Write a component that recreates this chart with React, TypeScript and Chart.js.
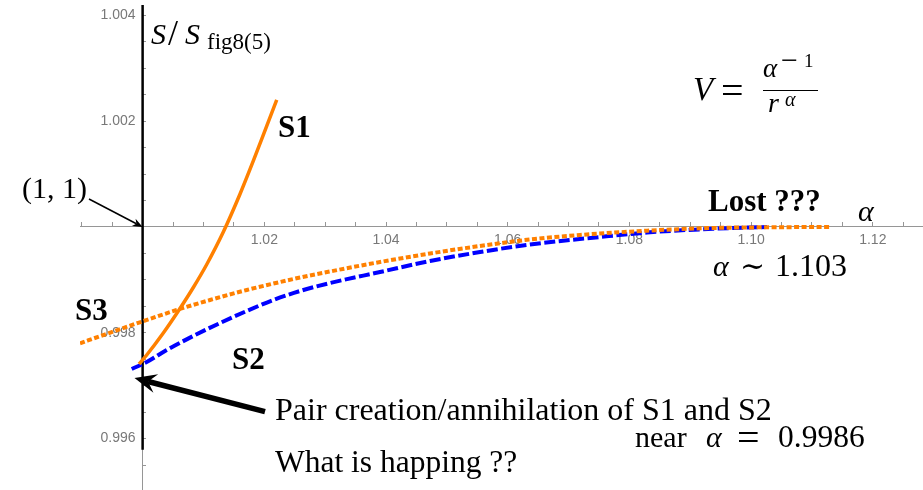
import { useEffect, useRef } from 'react';
import { Chart, registerables } from 'chart.js';

Chart.register(...registerables);

// ---------------- data ----------------
const S1_ALPHA = [0.99941, 1.00067, 1.0034, 1.00587, 1.00833, 1.01053, 1.01326, 1.01601, 1.01819, 1.02039, 1.02204];
const S1_RATIO = [0.99741, 0.99758, 0.997996, 0.998412, 0.998856, 0.999291, 0.999905, 1.000624, 1.001248, 1.001909, 1.002401];

const S2_ALPHA = [0.99821, 1.00067, 1.00396, 1.00833, 1.01272, 1.01711, 1.02148, 1.02587, 1.0308, 1.03902, 1.04724, 1.05545, 1.06367, 1.07517, 1.08289, 1.09373, 1.10261];
const S2_RATIO = [0.997316, 0.997448, 0.997675, 0.99794, 0.998185, 0.998412, 0.99862, 0.99879, 0.998941, 0.999149, 0.999357, 0.999527, 0.999669, 0.999811, 0.999896, 0.999966, 1.0];

const S3_ALPHA = [0.98971, 0.99354, 0.99985, 1.0056, 1.01108, 1.01711, 1.02258, 1.02587, 1.0308, 1.03902, 1.04724, 1.05545, 1.06367, 1.07188, 1.08289, 1.09373, 1.10475, 1.11297];
const S3_RATIO = [0.997802, 0.997958, 0.99821, 0.998431, 0.99862, 0.998809, 0.99896, 0.999045, 0.999159, 0.999338, 0.999499, 0.999641, 0.999764, 0.999849, 0.99993, 0.999981, 0.999996, 1.0];

const X_MAJOR_TICKS = [1.02, 1.04, 1.06, 1.08, 1.1, 1.12];
const X_TICK_LABELS = ['1.02', '1.04', '1.06', '1.08', '1.10', '1.12'];
const Y_MAJOR_TICKS = [0.996, 0.998, 1.002, 1.004];
const Y_TICK_LABELS = ['0.996', '0.998', '1.002', '1.004'];
const X_MINOR = { from: 0.99, to: 1.125, step: 0.005 };
const Y_MINOR = { from: 0.9955, to: 1.004, step: 0.0005 };

const X_RANGE = [0.98971, 1.12825];
const Y_RANGE = [0.9950283, 1.0041966];

// ---------------- layout / style ----------------
const W = 923;
const H = 535;
const Y0 = 20; // canvas is shifted up by this many px
const SERIF = '"Liberation Serif", "Times New Roman", "DejaVu Serif", serif';
const SANS = '"Liberation Sans", Arial, sans-serif';
const ORANGE = 'rgb(255,128,0)';
const BLUE = 'rgb(0,0,255)';
const AXIS_GREY = 'rgb(150,150,150)';
const LABEL_GREY = 'rgb(120,120,120)';

function tickList(r: { from: number; to: number; step: number }, skip: number) {
  const out: { value: number }[] = [];
  const n = Math.round((r.to - r.from) / r.step);
  for (let i = 0; i <= n; i++) {
    const v = +(r.from + i * r.step).toFixed(6);
    if (Math.abs(v - skip) > 1e-9) out.push({ value: v });
  }
  return out;
}

function labelFor(v: number, majors: number[], labels: string[], pad = '') {
  const i = majors.findIndex((m) => Math.abs(m - v) < 1e-7);
  return i >= 0 ? labels[i] + pad : '';
}

function toPoints(xs: number[], ys: number[]) {
  return xs.map((x, i) => ({ x, y: ys[i] }));
}

function arrow(ctx: CanvasRenderingContext2D, fx: number, fy: number, tx: number, ty: number, lw: number, len: number, half: number, notch: number) {
  const dx = fx - tx;
  const dy = fy - ty;
  const d = Math.hypot(dx, dy);
  const ux = dx / d;
  const uy = dy / d;
  const nx = -uy;
  const ny = ux;
  ctx.save();
  ctx.strokeStyle = '#000';
  ctx.fillStyle = '#000';
  ctx.lineWidth = lw;
  ctx.lineCap = 'butt';
  ctx.beginPath();
  ctx.moveTo(fx, fy);
  ctx.lineTo(tx + ux * notch, ty + uy * notch);
  ctx.stroke();
  ctx.beginPath();
  ctx.moveTo(tx, ty);
  ctx.lineTo(tx + ux * len + nx * half, ty + uy * len + ny * half);
  ctx.lineTo(tx + ux * notch, ty + uy * notch);
  ctx.lineTo(tx + ux * len - nx * half, ty + uy * len - ny * half);
  ctx.closePath();
  ctx.fill();
  ctx.restore();
}

const annotations = {
  id: 'annotations',
  beforeDatasetsDraw(chart: any) {
    const { ctx, scales, chartArea } = chart;
    const ax = scales.x.getPixelForValue(1);
    ctx.save();
    ctx.strokeStyle = '#000';
    ctx.lineWidth = 2.5;
    ctx.beginPath();
    ctx.moveTo(ax, chartArea.top);
    ctx.lineTo(ax, scales.y.getPixelForValue(0.99579));
    ctx.stroke();
    ctx.restore();
  },
  afterDraw(chart: any) {
    const { ctx, scales } = chart;
    const T = (s: string, x: number, y: number, font: string) => {
      ctx.font = font;
      ctx.fillText(s, x, y + Y0);
    };
    ctx.save();
    ctx.fillStyle = '#000';
    ctx.textAlign = 'left';
    ctx.textBaseline = 'alphabetic';

    // y axis label  S/S_fig8(5)
    T('S', 151, 44, `italic 30px ${SERIF}`);
    T('/', 168, 45, `36px ${SERIF}`);
    T('S', 185, 44, `italic 30px ${SERIF}`);
    T('fig8(5)', 207, 49, `23px ${SERIF}`);
    // x axis label
    T('α', 858, 221, `italic 30px ${SERIF}`);

    // (1,1) + arrow
    T('(1, 1)', 22, 198, `30px ${SERIF}`);
    arrow(ctx, 89, 199 + Y0, scales.x.getPixelForValue(1), scales.y.getPixelForValue(1), 1.5, 10, 4, 7);

    // branch names
    T('S1', 278, 137, `bold 31px ${SERIF}`);
    T('S3', 75, 320, `bold 31px ${SERIF}`);
    T('S2', 232, 369, `bold 31px ${SERIF}`);
    T('Lost ???', 708, 211, `bold 31px ${SERIF}`);

    // potential  V = alpha^-1 / r^alpha
    T('V', 693, 100, `italic 33px ${SERIF}`);
    T('=', 721, 104, `40px ${SERIF}`);
    T('α', 763, 77, `italic 27px ${SERIF}`);
    T('−', 781, 70, `30px ${SERIF}`);
    T('1', 804, 67, `19px ${SERIF}`);
    ctx.lineWidth = 1.2;
    ctx.strokeStyle = '#000';
    ctx.beginPath();
    ctx.moveTo(763, 90.5 + Y0);
    ctx.lineTo(818, 90.5 + Y0);
    ctx.stroke();
    T('r', 768, 112, `italic 28px ${SERIF}`);
    T('α', 785, 106, `italic 20px ${SERIF}`);

    // alpha ~ 1.103
    T('α', 713, 276, `italic 30px ${SERIF}`);
    T('∼', 740, 276, `30px ${SERIF}`);
    T('1.103', 775, 276, `32px ${SERIF}`);

    // pair creation
    arrow(ctx, 265, 411.7 + Y0, 134.5, 378 + Y0, 5.5, 22, 9.5, 14);
    T('Pair creation/annihilation of S1 and S2', 275, 420, `32px ${SERIF}`);
    T('What is happing ??', 275, 472, `31.5px ${SERIF}`);
    T('near', 635, 447, `30px ${SERIF}`);
    T('α', 706, 447, `italic 30px ${SERIF}`);
    T('=', 737, 451, `40px ${SERIF}`);
    T('0.9986', 778, 447, `31.5px ${SERIF}`);
    ctx.restore();
  },
};

export default function App() {
  const ref = useRef<HTMLCanvasElement | null>(null);

  useEffect(() => {
    document.body.style.margin = '0';
    document.body.style.overflow = 'hidden';
    const canvas = ref.current;
    if (!canvas) return;
    const chart = new Chart(canvas, {
      type: 'line',
      data: {
        datasets: [
          {
            label: 'S1',
            data: toPoints(S1_ALPHA, S1_RATIO),
            borderColor: ORANGE,
            borderWidth: 3.5,
            pointRadius: 0,
            cubicInterpolationMode: 'monotone',
            borderCapStyle: 'butt',
            order: 1,
          },
          {
            label: 'S2',
            data: toPoints(S2_ALPHA, S2_RATIO),
            borderColor: BLUE,
            borderWidth: 4,
            borderDash: [11, 3.5],
            pointRadius: 0,
            cubicInterpolationMode: 'monotone',
            borderCapStyle: 'butt',
            order: 2,
          },
          {
            label: 'S3',
            data: toPoints(S3_ALPHA, S3_RATIO),
            borderColor: ORANGE,
            borderWidth: 4,
            borderDash: [5, 2.5],
            pointRadius: 0,
            cubicInterpolationMode: 'monotone',
            borderCapStyle: 'butt',
            order: 0,
          },
        ],
      },
      options: {
        responsive: false,
        animation: false,
        devicePixelRatio: 1,
        layout: { padding: { left: 80, right: 0, top: 25, bottom: 25 } },
        plugins: { legend: { display: false }, tooltip: { enabled: false } },
        scales: {
          x: {
            type: 'linear',
            min: X_RANGE[0],
            max: X_RANGE[1],
            position: { y: 1 },
            afterBuildTicks: (s: any) => {
              s.ticks = tickList(X_MINOR, 1);
            },
            border: { display: true, color: AXIS_GREY, width: 1 },
            grid: { display: true, drawOnChartArea: false, drawTicks: true, tickLength: -5, tickColor: AXIS_GREY, tickWidth: 1 },
            ticks: {
              autoSkip: false,
              maxRotation: 0,
              includeBounds: false,
              padding: 10,
              color: LABEL_GREY,
              font: { family: SANS, size: 14 },
              callback: (v: any) => labelFor(Number(v), X_MAJOR_TICKS, X_TICK_LABELS),
            },
          },
          y: {
            type: 'linear',
            min: Y_RANGE[0],
            max: Y_RANGE[1],
            position: { x: 1 },
            afterBuildTicks: (s: any) => {
              s.ticks = tickList(Y_MINOR, 1);
            },
            border: { display: true, color: AXIS_GREY, width: 1 },
            grid: { display: true, drawOnChartArea: false, drawTicks: true, tickLength: -4, tickColor: AXIS_GREY, tickWidth: 1 },
            ticks: {
              autoSkip: false,
              includeBounds: false,
              padding: 6,
              color: LABEL_GREY,
              font: { family: SANS, size: 14 },
              callback: (v: any) => labelFor(Number(v), Y_MAJOR_TICKS, Y_TICK_LABELS, '\u2002'),
            },
          },
        },
      },
      plugins: [annotations],
    } as any);
    return () => chart.destroy();
  }, []);

  return (
    <div style={{ position: 'fixed', left: 0, top: -Y0, width: W, height: H }}>
      <canvas ref={ref} width={W} height={H} style={{ display: 'block' }} />
    </div>
  );
}
